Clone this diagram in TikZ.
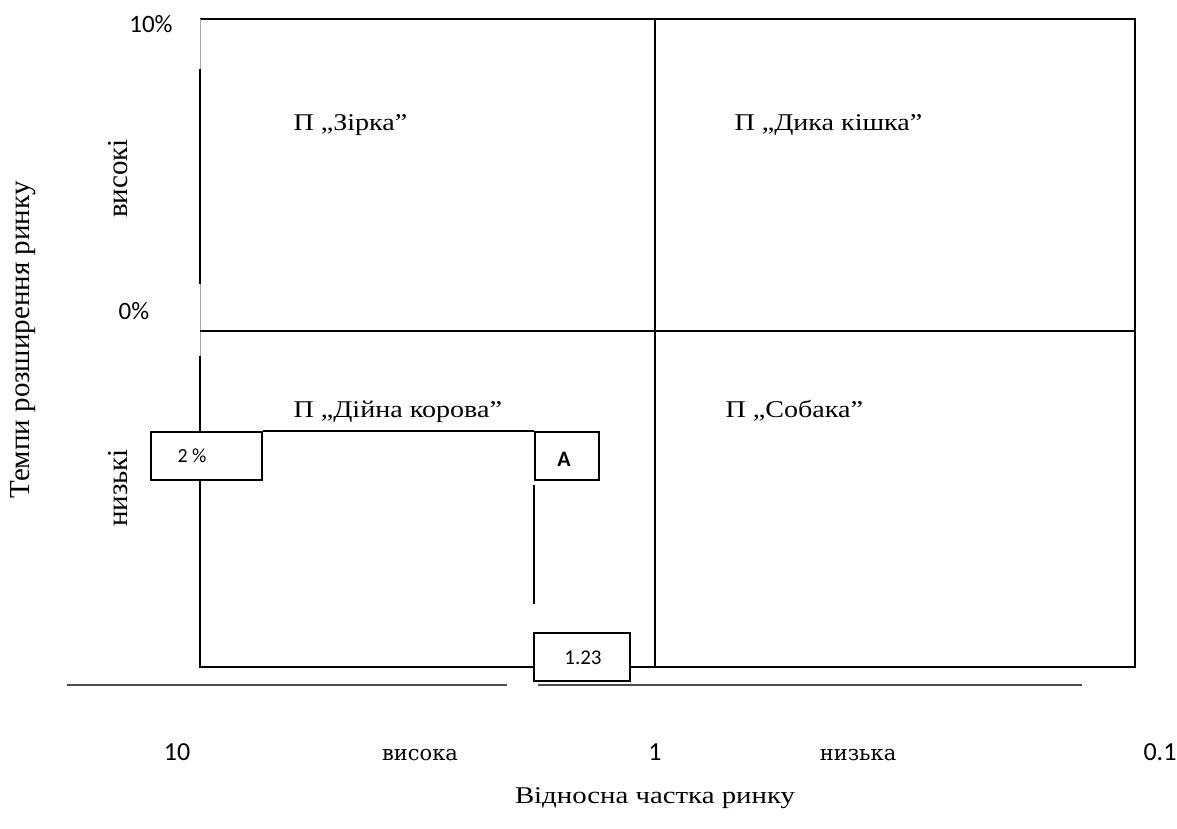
\documentclass[tikz,border=0pt]{standalone}
\usepackage{fontspec}
\setmainfont{Liberation Serif}
\newfontfamily\numfont{Carlito}
\newfontfamily\labfont{DejaVu Serif}
% horizontally widened text
\newcommand\widetext[2]{\scalebox{#1}[1]{#2}}
\begin{document}
\begin{tikzpicture}[x=1pt,y=-1pt,
  frame/.style={line width=1.6pt,black},
  faint/.style={line width=0.8pt,black!35},
  rule/.style={line width=1.4pt,black!70},
  valbox/.style={draw,line width=1.6pt,fill=white,inner sep=0pt},
  valtext/.style={font=\numfont\fontsize{20}{22}\selectfont},
  quad/.style={anchor=base west,font=\fontsize{24}{26}\selectfont},
  ylab/.style={rotate=90,anchor=base,font=\fontsize{29}{31}\selectfont},
  num/.style={anchor=base,font=\numfont\fontsize{26}{28}\selectfont},
  xlab/.style={anchor=base,font=\labfont\fontsize{21}{24}\selectfont}]
\useasboundingbox (0,0) rectangle (1177,829);

% frame corners and axis points
\coordinate (tl) at (200,19);
\coordinate (tr) at (1135,19);
\coordinate (br) at (1135,667);
\coordinate (bl) at (200,667);
\coordinate (mt) at (655,19);
\coordinate (mb) at (655,667);
\coordinate (ml) at (200,331);
\coordinate (mr) at (1135,331);

% value boxes
\node[valbox,minimum width=111pt,minimum height=48pt] (g2) at (206.5,456) {};
\node[valtext] (g2t) at (192,456) {2 \%};
\node[valbox,minimum width=64pt,minimum height=48pt] (ba) at (567,456) {};
\node[valtext,font=\numfont\bfseries\fontsize{22}{24}\selectfont] (bat) at (564,459) {A};
\node[valbox,minimum width=96pt,minimum height=48pt] (s123) at (582,657) {};
\node[valtext,font=\numfont\fontsize{21}{23}\selectfont] (s123t) at (583,658) {1.23};

% outer frame
\draw[frame] (tl) -- (tr) -- (br) -- (s123.east |- br);
\draw[frame] (s123.west |- bl) -- (bl) -- (200,480);
\draw[frame] (200,432) -- (200,356);
\draw[frame] (200,284) -- (200,69);
\draw[faint] (200,356) -- (200,284);
\draw[faint] (200,69) -- (tl);

% quadrant dividers
\draw[frame] (mt) -- (mb);
\draw[frame] (ml) -- (mr);

% share and growth guides
\draw[frame] (g2.north east) -- (ba.north west);
\draw[frame] (ba.west |- 0,485) -- (ba.west |- 0,604);

% axis underlines
\draw[rule] (67,685) -- (507,685);
\draw[rule] (538,685) -- (1082,685);

% quadrant names
\node[quad] (q1) at (290,131) {\widetext{1.17}{П „Зірка”}};
\node[quad] (q2) at (731,131) {\widetext{1.17}{П „Дика кішка”}};
\node[quad] (q3) at (290,417) {\widetext{1.17}{П „Дійна корова”}};
\node[quad] (q4) at (722,417) {\widetext{1.17}{П „Собака”}};

% vertical axis
\node[num,anchor=center,font=\numfont\fontsize{25}{27}\selectfont] (p10) at (151,24.5) {10\%};
\node[num,anchor=center,font=\numfont\fontsize{25}{27}\selectfont] (p0) at (134,311) {0\%};
\node[ylab] (hi) at (127,178.5) {високі};
\node[ylab] (lo) at (127,488) {низькі};
\node[ylab] (yax) at (29,340) {Темпи розширення ринку};

% horizontal axis
\node[num] (x10) at (177,760) {10};
\node[xlab] (xhi) at (420,760) {висока};
\node[num] (x1) at (655,760) {1};
\node[xlab] (xlo) at (858,760) {низька};
\node[num] (x01) at (1160,760) {0.1};
\node[anchor=center,font=\fontsize{24}{26}\selectfont] (xax) at (655,798) {\widetext{1.2}{Відносна частка ринку}};
\end{tikzpicture}
\end{document}
